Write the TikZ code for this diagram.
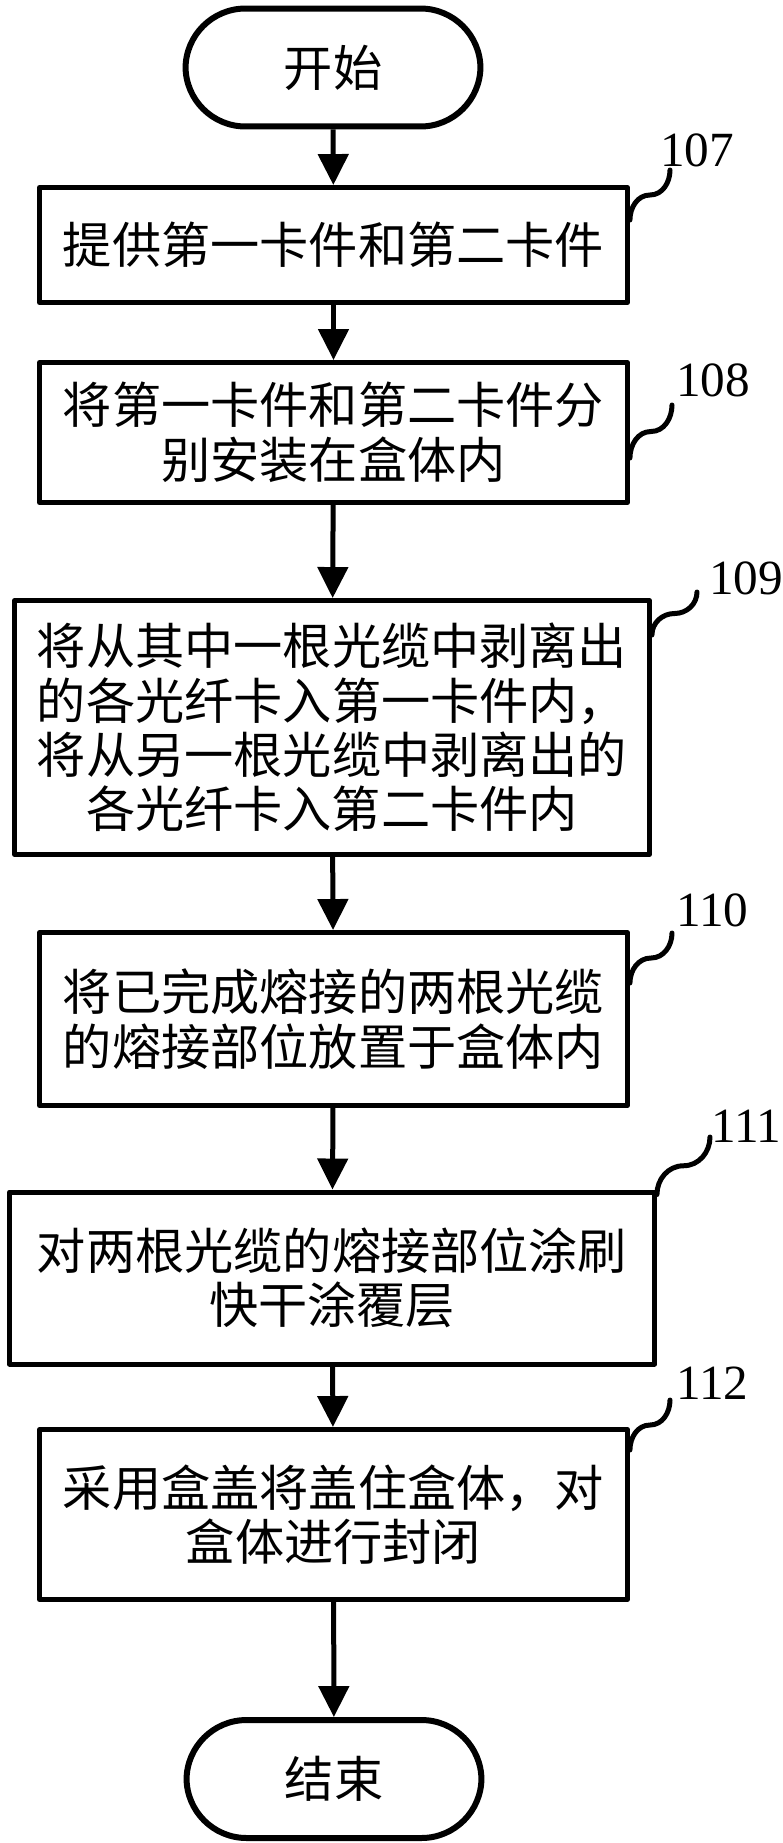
\documentclass[tikz,border=0pt]{standalone}
\usepackage{fontspec}
\setmainfont{Liberation Serif}
\newfontfamily\cjk{Noto Sans CJK SC}
\usepackage{tikz}
\usetikzlibrary{arrows.meta,calc}

\begin{document}
\begin{tikzpicture}[x=0.02cm,y=0.02cm,line join=round,
  >={Triangle[length=0.62cm,width=0.6cm]},
  stepbox/.style={draw,line width=0.1cm,inner sep=0pt,align=center,font=\cjk\fontsize{28pt}{31pt}\selectfont},
  term/.style={stepbox,line width=0.12cm,rounded corners=1.2cm,minimum width=5.9cm,minimum height=2.36cm},
  flow/.style={->,line width=0.1cm},
  leader/.style={line width=0.1cm,line cap=round},
  num/.style={anchor=south west,inner sep=0pt,font=\fontsize{28pt}{30pt}\selectfont}]
\useasboundingbox (0,0) rectangle (782,-1843);
\node[term] (start) at (333,-67.5) {开始};
\node[stepbox,minimum width=11.76cm,minimum height=2.3cm] (b107) at (333.5,-245) {提供第一卡件和第二卡件};
\node[stepbox,minimum width=11.76cm,minimum height=2.8cm] (b108) at (333.5,-432.5) {将第一卡件和第二卡件分\\别安装在盒体内};
\node[stepbox,minimum width=12.7cm,minimum height=5.08cm] (b109) at (332,-727.5) {将从其中一根光缆中剥离出\\的各光纤卡入第一卡件内，\\将从另一根光缆中剥离出的\\各光纤卡入第二卡件内};
\node[stepbox,minimum width=11.76cm,minimum height=3.46cm] (b110) at (333.5,-1019) {将已完成熔接的两根光缆\\的熔接部位放置于盒体内};
\node[stepbox,minimum width=12.9cm,minimum height=3.44cm] (b111) at (332,-1278) {对两根光缆的熔接部位涂刷\\快干涂覆层};
\node[stepbox,minimum width=11.76cm,minimum height=3.4cm] (b112) at (333.5,-1514.5) {采用盒盖将盖住盒体，对\\盒体进行封闭};
\node[term] (stop) at (334,-1779) {结束};
\draw[flow] (start) -- (b107);
\draw[flow] (b107) -- (b108);
\draw[flow] (b108) -- (b109);
\draw[flow] (b109) -- (b110);
\draw[flow] (b110) -- (b111);
\draw[flow] (b111) -- (b112);
\draw[flow] (b112) -- (stop);
\node[num] (l107) at (660,-167) {107};
\node[num] (l108) at (676,-397) {108};
\node[num] (l109) at (709,-595) {109};
\node[num] (l110) at (676,-927) {110};
\node[num] (l111) at (711,-1143) {111};
\node[num] (l112) at (676,-1400) {112};
\coordinate (s107) at ($(b107.north east)+(0,-35)$);
\coordinate (t107) at (670,-170);
\coordinate (s108) at ($(b108.north east)+(0,-98)$);
\coordinate (t108) at (672,-405);
\coordinate (s109) at ($(b109.north east)+(0,-37)$);
\coordinate (t109) at (697,-592);
\coordinate (s110) at ($(b110.north east)+(0,-53)$);
\coordinate (t110) at (672,-933);
\coordinate (s111) at ($(b111.north east)+(0,-5)$);
\coordinate (t111) at (710,-1137);
\coordinate (s112) at ($(b112.north east)+(0,-23)$);
\coordinate (t112) at (670,-1400);
\draw[leader] (s107) to[out=90,in=180] ($(s107)!.5!(t107)$) to[out=0,in=-90] (t107);
\draw[leader] (s108) to[out=90,in=180] ($(s108)!.5!(t108)$) to[out=0,in=-90] (t108);
\draw[leader] (s109) to[out=90,in=180] ($(s109)!.5!(t109)$) to[out=0,in=-90] (t109);
\draw[leader] (s110) to[out=90,in=180] ($(s110)!.5!(t110)$) to[out=0,in=-90] (t110);
\draw[leader] (s111) to[out=90,in=180] ($(s111)!.5!(t111)$) to[out=0,in=-90] (t111);
\draw[leader] (s112) to[out=90,in=180] ($(s112)!.5!(t112)$) to[out=0,in=-90] (t112);
\end{tikzpicture}
\end{document}
